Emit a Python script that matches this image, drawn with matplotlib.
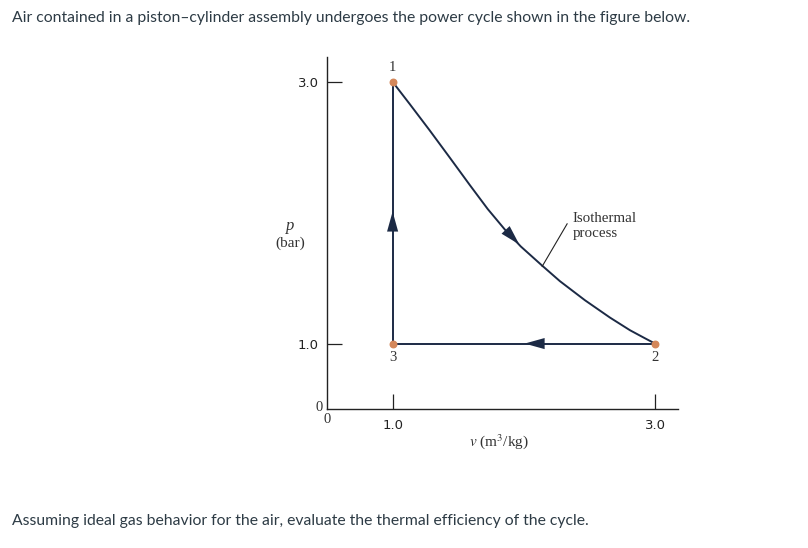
import matplotlib
matplotlib.use("Agg")
from matplotlib import pyplot as plt
from matplotlib.patches import FancyArrowPatch

plt.rcParams['mathtext.fontset'] = 'stix'

# state points (v in m3/kg, p in bar)
state_names = ['1', '2', '3']
state_v = [1.0, 3.0, 1.0]
state_p = [3.0, 1.0, 1.0]

# isothermal curve 1 -> 2
curve_v = [1.0, 1.130, 1.282, 1.435, 1.588, 1.725, 1.855, 1.977, 2.137,
           2.275, 2.466, 2.656, 2.809, 2.924, 3.0]
curve_p = [3.0, 2.831, 2.630, 2.422, 2.212, 2.028, 1.872, 1.742, 1.598,
           1.477, 1.331, 1.199, 1.102, 1.040, 1.0]

xticks = [1.0, 3.0]
yticks = [1.0, 3.0]

line_col = '#1c2a45'
pt_col = '#d4875a'
txt_col = '#333333'
serif = 'Liberation Serif'

fig = plt.figure(figsize=(8.08, 5.48), dpi=100)
ax = fig.add_axes([327/808, 1-409/548, (678-327)/808, (409-57)/548])
ax.set_xlim(0.5, 3.175)
ax.set_ylim(0.5, 3.19)

for s in ['top', 'right']:
    ax.spines[s].set_visible(False)
for s in ['left', 'bottom']:
    ax.spines[s].set_color('#222222')
    ax.spines[s].set_linewidth(1.0)

ax.set_xticks(xticks)
ax.set_yticks(yticks)
ax.set_xticklabels(['%.1f' % t for t in xticks], fontsize=9.5, color='#222222')
ax.set_yticklabels(['%.1f' % t for t in yticks], fontsize=9.5, color='#222222')
ax.tick_params(direction='in', length=11, width=0.9, color='#222222', pad=6)
ax.tick_params(axis='x', pad=7)

# cycle lines
ax.plot(curve_v, curve_p, color=line_col, lw=1.4, zorder=2, solid_joinstyle='round')
ax.plot([state_v[1], state_v[2]], [state_p[1], state_p[2]], color=line_col, lw=1.4, zorder=2)
ax.plot([state_v[2], state_v[0]], [state_p[2], state_p[0]], color=line_col, lw=1.4, zorder=2)
ax.scatter(state_v, state_p, s=22, color=pt_col, zorder=3)

def head(x0, y0, x1, y1):
    ax.add_patch(FancyArrowPatch((x0, y0), (x1, y1),
                                 arrowstyle='-|>,head_length=0.9,head_width=0.25',
                                 mutation_scale=16, color=line_col, lw=0, zorder=4))

head(1.0, 1.85, 1.0, 2.03)           # 3 -> 1, upward
head(2.12, 1.0, 1.985, 1.0)          # 2 -> 3, leftward
head(1.86, 1.87, 1.98, 1.742)        # 1 -> 2, along the curve

# point labels
ax.text(1.0, 3.06, '1', ha='center', va='bottom', fontsize=10.5, family=serif, color=txt_col)
ax.text(1.0, 0.94, '3', ha='center', va='top', fontsize=10.5, family=serif, color=txt_col)
ax.text(3.0, 0.94, '2', ha='center', va='top', fontsize=10.5, family=serif, color=txt_col)

# isothermal note
ax.plot([2.14, 2.33], [1.59, 1.915], color='#222222', lw=0.8)
ax.text(2.37, 1.9, 'Isothermal\nprocess', ha='left', va='center', fontsize=10.8,
        family=serif, color=txt_col, linespacing=1.25)

ax.text(0.465, 0.515, '0', ha='right', va='center', fontsize=10.5, family=serif, color=txt_col)
ax.text(0.5, 0.47, '0', ha='center', va='top', fontsize=10.5, family=serif, color=txt_col)

# axis labels
fig.text(290/808, 1-226/548, 'p', ha='center', va='center', fontsize=12,
         family=serif, style='italic', color=txt_col)
fig.text(290/808, 1-243/548, '(bar)', ha='center', va='center', fontsize=11,
         family=serif, color=txt_col)
fig.text(499/808, 1-442/548, r'$\mathit{v}$ (m$^3$/kg)', ha='center', va='center', fontsize=11,
         family=serif, color=txt_col)

# question text
fig.text(12/808, 1-18/548, 'Air contained in a piston\u2013cylinder assembly undergoes the power cycle shown in the figure below.',
         ha='left', va='center', fontsize=11.3, family='Lato', color='#2d3b45')
fig.text(12/808, 1-521/548, 'Assuming ideal gas behavior for the air, evaluate the thermal efficiency of the cycle.',
         ha='left', va='center', fontsize=11.3, family='Lato', color='#2d3b45')

fig.savefig('out.png', dpi=100)
